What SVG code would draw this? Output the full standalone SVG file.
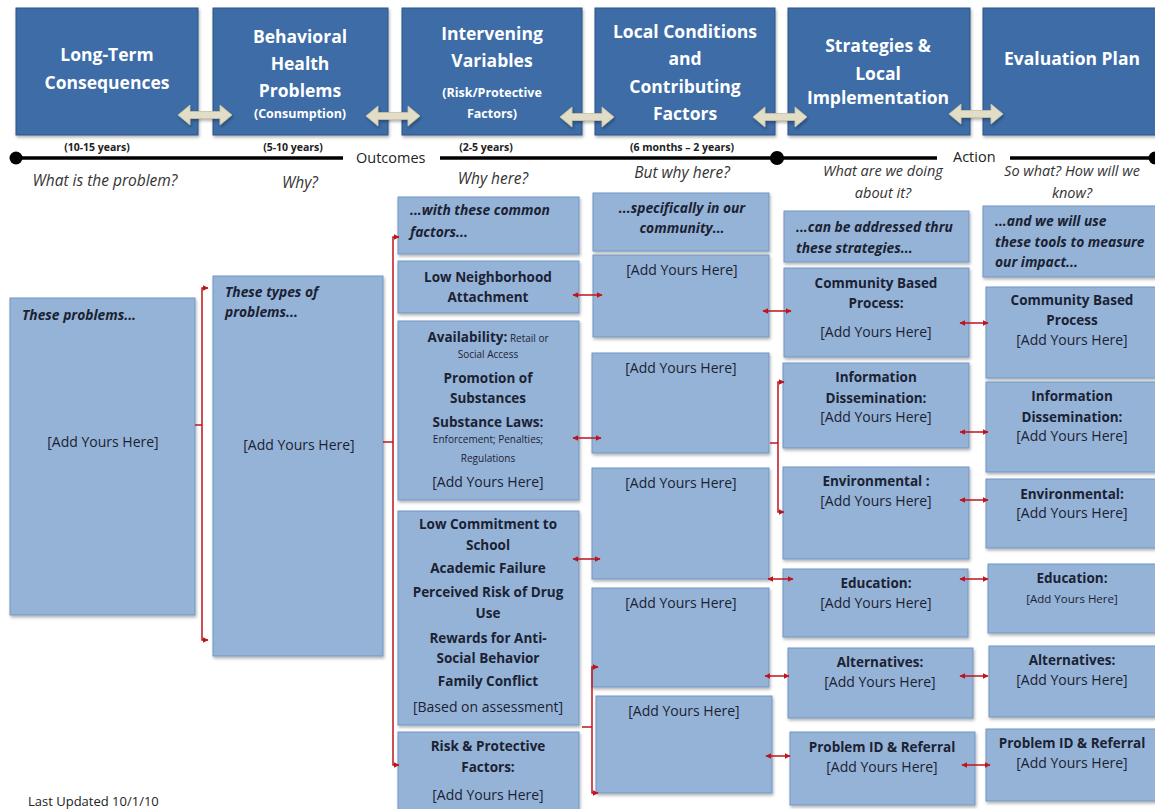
<svg xmlns="http://www.w3.org/2000/svg" width="1155" height="809" viewBox="0 0 1155 809">
<defs>
<style>
.hdr{fill:#3d6ca7;stroke:#2c5485;stroke-width:1;filter:url(#sh)}
.ht{font-family:"Open Sans","Liberation Sans",sans-serif;font-weight:bold;fill:#ffffff;font-size:17.5px;text-anchor:middle}
.hs{font-size:12.5px}
.box{fill:#95b3d7;stroke:#7395c4;stroke-width:1;filter:url(#sh)}
.t{font-family:"Open Sans","Liberation Sans",sans-serif;fill:#1b2233;font-size:14px;text-anchor:middle}
.b{font-weight:bold;font-size:13.5px}
.bi{font-weight:bold;font-style:italic;text-anchor:start;font-size:13.8px}
.sm{font-size:10px;font-weight:normal}
.q{font-family:"Open Sans","Liberation Sans",sans-serif;font-style:italic;font-size:15.5px;fill:#333333;text-anchor:middle}
.q2{font-size:14.5px}
.yr{font-family:"Open Sans","Liberation Sans",sans-serif;font-size:10.5px;font-weight:bold;fill:#222222;text-anchor:middle}
.tl{stroke:#000;stroke-width:3.5;fill:none}
.lbl{font-family:"Open Sans","Liberation Sans",sans-serif;font-size:14.5px;fill:#222222}
.rc{stroke:#c0141c;stroke-width:1.5;fill:none}
.ra{marker-start:url(#ra);marker-end:url(#ra)}
.da{fill:#e2ddc6;stroke:#c9c2a3;stroke-width:0.8;filter:url(#sh)}
</style>
<filter id="sh" x="-10%" y="-10%" width="130%" height="130%">
<feDropShadow dx="1" dy="2" stdDeviation="1.5" flood-color="#000" flood-opacity="0.3"/>
</filter>
<marker id="ra" viewBox="0 0 10 10" refX="9" refY="5" markerWidth="4" markerHeight="4" orient="auto-start-reverse">
<path d="M0,0 L10,5 L0,10 z" fill="#c0141c"/>
</marker>
<path id="dbl" d="M-27,0 L-15,-10 L-15,-3.5 L15,-3.5 L15,-10 L27,0 L15,10 L15,3.5 L-15,3.5 L-15,10 Z"/>
</defs>
<rect width="1155" height="809" fill="#ffffff"/>

<!-- Header boxes -->
<g id="h1"><rect class="hdr" x="16" y="8" width="182" height="127"/>
<text class="ht" x="107" y="61">Long-Term</text><text class="ht" x="107" y="89">Consequences</text></g>
<g id="h2"><rect class="hdr" x="213" y="8" width="175" height="127"/>
<text class="ht" x="300" y="43">Behavioral</text><text class="ht" x="300" y="70">Health</text><text class="ht" x="300" y="97">Problems</text><text class="ht hs" x="300" y="118">(Consumption)</text></g>
<g id="h3"><rect class="hdr" x="402" y="8" width="180" height="127"/>
<text class="ht" x="492" y="40">Intervening</text><text class="ht" x="492" y="67">Variables</text><text class="ht hs" x="492" y="97">(Risk/Protective</text><text class="ht hs" x="492" y="118">Factors)</text></g>
<g id="h4"><rect class="hdr" x="595" y="8" width="180" height="127"/>
<text class="ht" x="685" y="38">Local Conditions</text><text class="ht" x="685" y="65">and</text><text class="ht" x="685" y="93">Contributing</text><text class="ht" x="685" y="120">Factors</text></g>
<g id="h5"><rect class="hdr" x="788" y="8" width="182" height="127"/>
<text class="ht" x="878" y="52">Strategies &amp;</text><text class="ht" x="878" y="80">Local</text><text class="ht" x="878" y="104">Implementation</text></g>
<g id="h6"><rect class="hdr" x="983" y="8" width="180" height="127"/>
<text class="ht" x="1072" y="65">Evaluation Plan</text></g>

<!-- header double arrows -->
<g id="header-arrows">
<use href="#dbl" class="da" x="205" y="115"/>
<use href="#dbl" class="da" x="393" y="116"/>
<use href="#dbl" class="da" x="587" y="117"/>
<use href="#dbl" class="da" x="780" y="117"/>
<use href="#dbl" class="da" x="976" y="114"/>
</g>

<!-- timeline -->
<g id="timeline">
<line class="tl" x1="16" y1="158" x2="343" y2="158"/>
<circle cx="16" cy="158" r="6.5" fill="#000"/>
<text class="lbl" x="356" y="163">Outcomes</text>
<line class="tl" x1="440" y1="158" x2="777" y2="158"/>
<line class="tl" x1="777" y1="158" x2="937" y2="158"/>
<circle cx="777" cy="158" r="7" fill="#000"/>
<text class="lbl" x="953" y="162">Action</text>
<line class="tl" x1="1010" y1="158" x2="1155" y2="158"/>
<circle cx="1155" cy="158" r="6.5" fill="#000"/>
<text class="yr" x="97" y="151">(10-15 years)</text>
<text class="yr" x="293" y="151">(5-10 years)</text>
<text class="yr" x="486" y="151">(2-5 years)</text>
<text class="yr" x="682" y="151">(6 months – 2 years)</text>
<text class="q" x="105" y="186">What is the problem?</text>
<text class="q" x="300" y="188">Why?</text>
<text class="q" x="493" y="184">Why here?</text>
<text class="q" x="682" y="178">But why here?</text>
<text class="q q2" x="883" y="176">What are we doing</text>
<text class="q q2" x="883" y="198">about it?</text>
<text class="q q2" x="1072" y="176">So what? How will we</text>
<text class="q q2" x="1072" y="198">know?</text>
</g>

<!-- Column 1 -->
<g id="c1"><rect class="box" x="10" y="298" width="185" height="317"/>
<text class="t bi" x="22" y="320">These problems...</text>
<text class="t" x="103" y="447">[Add Yours Here]</text></g>

<!-- Column 2 -->
<g id="c2"><rect class="box" x="213" y="276" width="170" height="380"/>
<text class="t bi" x="225" y="297">These types of</text>
<text class="t bi" x="225" y="317">problems...</text>
<text class="t" x="299" y="450">[Add Yours Here]</text></g>

<!-- Column 3 -->
<g id="c3-head"><rect class="box" x="398" y="197" width="181" height="57"/>
<text class="t bi" x="410" y="215">...with these common</text>
<text class="t bi" x="410" y="237">factors...</text></g>
<g id="c3-lna"><rect class="box" x="398" y="261" width="181" height="52"/>
<text class="t b" x="488" y="282">Low Neighborhood</text>
<text class="t b" x="488" y="302">Attachment</text></g>
<g id="c3-avail"><rect class="box" x="398" y="321" width="181" height="179"/>
<text class="t" x="488" y="342"><tspan class="b">Availability:</tspan><tspan class="sm"> Retail  or</tspan></text>
<text class="t sm" x="488" y="358">Social Access</text>
<text class="t b" x="488" y="383">Promotion of</text>
<text class="t b" x="488" y="403">Substances</text>
<text class="t b" x="488" y="427">Substance  Laws:</text>
<text class="t sm" x="488" y="443">Enforcement; Penalties;</text>
<text class="t sm" x="488" y="462">Regulations</text>
<text class="t" x="488" y="487">[Add Yours Here]</text></g>
<g id="c3-school"><rect class="box" x="398" y="511" width="181" height="214"/>
<text class="t b" x="488" y="529">Low Commitment to</text>
<text class="t b" x="488" y="550">School</text>
<text class="t b" x="488" y="573">Academic Failure</text>
<text class="t b" x="488" y="597">Perceived Risk of Drug</text>
<text class="t b" x="488" y="618">Use</text>
<text class="t b" x="488" y="643">Rewards for Anti-</text>
<text class="t b" x="488" y="663">Social Behavior</text>
<text class="t b" x="488" y="686">Family Conflict</text>
<text class="t" x="488" y="712">[Based on assessment]</text></g>
<g id="c3-risk"><rect class="box" x="398" y="732" width="181" height="90"/>
<text class="t b" x="488" y="751">Risk &amp; Protective</text>
<text class="t b" x="488" y="772">Factors:</text>
<text class="t" x="488" y="800">[Add Yours Here]</text></g>

<!-- Column 4 -->
<g id="c4-head"><rect class="box" x="593" y="193" width="176" height="58"/>
<text class="t bi" x="682" y="213" style="text-anchor:middle">...specifically in our</text>
<text class="t bi" x="682" y="233" style="text-anchor:middle">community...</text></g>
<g id="c4-a"><rect class="box" x="593" y="255" width="176" height="82"/>
<text class="t" x="682" y="275">[Add Yours Here]</text></g>
<g id="c4-b"><rect class="box" x="592" y="353" width="177" height="100"/>
<text class="t" x="681" y="373">[Add Yours Here]</text></g>
<g id="c4-c"><rect class="box" x="592" y="468" width="177" height="111"/>
<text class="t" x="681" y="488">[Add Yours Here]</text></g>
<g id="c4-d"><rect class="box" x="592" y="588" width="177" height="99"/>
<text class="t" x="681" y="608">[Add Yours Here]</text></g>
<g id="c4-e"><rect class="box" x="596" y="696" width="176" height="97"/>
<text class="t" x="684" y="716">[Add Yours Here]</text></g>

<!-- Column 5 -->
<g id="c5-head"><rect class="box" x="784" y="211" width="185" height="51"/>
<text class="t bi" x="796" y="232">...can be addressed thru</text>
<text class="t bi" x="796" y="253">these strategies...</text></g>
<g id="c5-cbp"><rect class="box" x="784" y="268" width="185" height="89"/>
<text class="t b" x="876" y="288">Community Based</text>
<text class="t b" x="876" y="308">Process:</text>
<text class="t" x="876" y="337">[Add Yours Here]</text></g>
<g id="c5-info"><rect class="box" x="783" y="363" width="186" height="85"/>
<text class="t b" x="876" y="382">Information</text>
<text class="t b" x="876" y="403">Dissemination:</text>
<text class="t" x="876" y="422">[Add Yours Here]</text></g>
<g id="c5-env"><rect class="box" x="783" y="467" width="186" height="92"/>
<text class="t b" x="876" y="486">Environmental :</text>
<text class="t" x="876" y="506">[Add Yours Here]</text></g>
<g id="c5-edu"><rect class="box" x="783" y="569" width="185" height="68"/>
<text class="t b" x="876" y="588">Education:</text>
<text class="t" x="876" y="608">[Add Yours Here]</text></g>
<g id="c5-alt"><rect class="box" x="788" y="648" width="185" height="70"/>
<text class="t b" x="880" y="667">Alternatives:</text>
<text class="t" x="880" y="687">[Add Yours Here]</text></g>
<g id="c5-pid"><rect class="box" x="790" y="732" width="185" height="73"/>
<text class="t b" x="882" y="752">Problem ID &amp; Referral</text>
<text class="t" x="882" y="772">[Add Yours Here]</text></g>

<!-- Column 6 -->
<g id="c6-head"><rect class="box" x="983" y="206" width="180" height="71"/>
<text class="t bi" x="995" y="226">...and we will use</text>
<text class="t bi" x="995" y="247">these tools to measure</text>
<text class="t bi" x="995" y="267">our impact...</text></g>
<g id="c6-cbp"><rect class="box" x="986" y="287" width="177" height="91"/>
<text class="t b" x="1072" y="305">Community Based</text>
<text class="t b" x="1072" y="325">Process</text>
<text class="t" x="1072" y="345">[Add Yours Here]</text></g>
<g id="c6-info"><rect class="box" x="986" y="382" width="177" height="90"/>
<text class="t b" x="1072" y="401">Information</text>
<text class="t b" x="1072" y="422">Dissemination:</text>
<text class="t" x="1072" y="441">[Add Yours Here]</text></g>
<g id="c6-env"><rect class="box" x="986" y="479" width="177" height="69"/>
<text class="t b" x="1072" y="499">Environmental:</text>
<text class="t" x="1072" y="518">[Add Yours Here]</text></g>
<g id="c6-edu"><rect class="box" x="988" y="564" width="175" height="69"/>
<text class="t b" x="1072" y="583">Education:</text>
<text class="t" x="1072" y="603" style="font-size:11.5px">[Add Yours Here]</text></g>
<g id="c6-alt"><rect class="box" x="989" y="646" width="174" height="71"/>
<text class="t b" x="1072" y="665">Alternatives:</text>
<text class="t" x="1072" y="685">[Add Yours Here]</text></g>
<g id="c6-pid"><rect class="box" x="986" y="729" width="177" height="72"/>
<text class="t b" x="1072" y="748">Problem ID &amp; Referral</text>
<text class="t" x="1072" y="768">[Add Yours Here]</text></g>

<!-- Connectors -->
<g id="connectors">
<path class="rc" d="M195,425 H202"/>
<path class="rc ra" d="M208,288 H202 V640 H208"/>
<path class="rc" d="M383,442 H393"/>
<path class="rc ra" d="M399,237 H393 V765 H399"/>
<path class="rc ra" d="M573,295 H602"/>
<path class="rc ra" d="M573,438 H601"/>
<path class="rc ra" d="M573,559 H600"/>
<path class="rc" d="M582,727 H592"/>
<path class="rc ra" d="M598,667 H592 V793 H598"/>
<path class="rc ra" d="M763,311 H791"/>
<path class="rc" d="M770,443 H778"/>
<path class="rc ra" d="M784,382 H778 V512 H784"/>
<path class="rc ra" d="M768,579 H793"/>
<path class="rc ra" d="M765,676 H789"/>
<path class="rc ra" d="M766,756 H790"/>
<path class="rc ra" d="M960,323 H988"/>
<path class="rc ra" d="M960,432 H988"/>
<path class="rc ra" d="M960,500 H988"/>
<path class="rc ra" d="M960,579 H988"/>
<path class="rc ra" d="M960,676 H988"/>
<path class="rc ra" d="M962,765 H990"/>
</g>

<text class="lbl" x="28" y="806" style="font-size:13px">Last Updated 10/1/10</text>
</svg>
